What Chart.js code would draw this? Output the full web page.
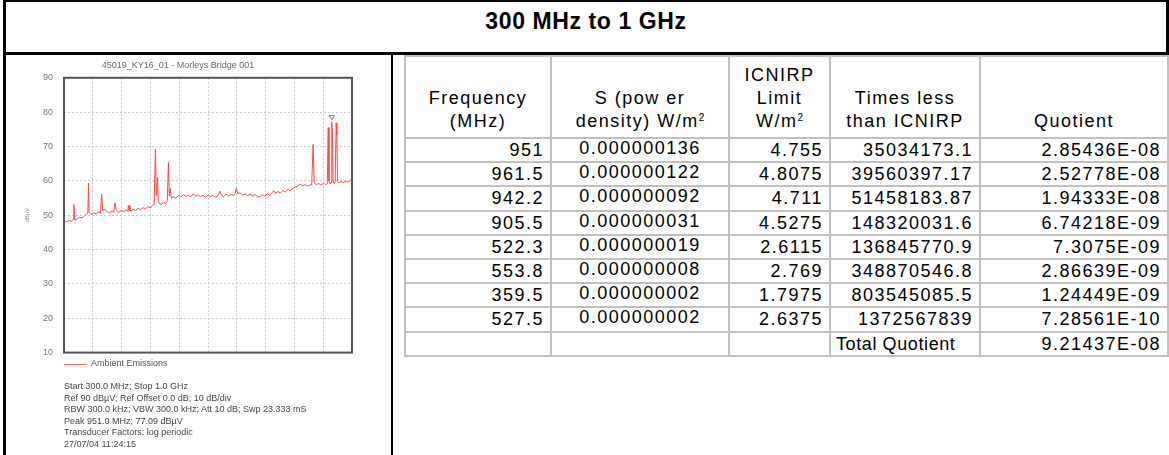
<!DOCTYPE html>
<html>
<head>
<meta charset="utf-8">
<script src="https://cdn.jsdelivr.net/npm/chart.js@4.4.0/dist/chart.umd.min.js"></script>
<style>
  html, body { margin: 0; padding: 0; background: #fff; }
  body { width: 1169px; height: 455px; position: relative; overflow: hidden; font-family: "Liberation Sans", Arial, sans-serif; }
  .title { position: absolute; left: 3px; top: 0; width: 1166px; height: 55px; box-sizing: border-box;
           border: 3px solid #000; border-top-width: 2px; text-align: center; font-weight: bold;
           font-size: 23px; letter-spacing: 0.6px; line-height: 38px; }
  .lborder { position: absolute; left: 3px; top: 55px; width: 3px; height: 400px; background: #000; }
  .divider { position: absolute; left: 391px; top: 55px; width: 2px; height: 400px; background: #000; }
  #spec { position: absolute; left: 4px; top: 56px; }
  .legend { position: absolute; left: 64px; top: 358px; font-size: 9px; color: #555; }
  .legend i { position: absolute; left: 0; top: 6px; width: 23px; height: 1px; background: #ff7070; }
  .legend span { position: absolute; left: 27px; top: 0; white-space: nowrap; }
  .info { position: absolute; left: 64px; top: 381px; font-size: 9px; line-height: 11.5px; color: #444; white-space: nowrap; }
  .tbl { position: absolute; left: 404px; top: 55px; width: 763px; border-collapse: collapse; table-layout: fixed;
         font-size: 18px; letter-spacing: 1.5px; color: #000; }
  .tbl td { border: 2px solid #c0c0c0; padding: 0 6px; height: 22.2px; line-height: 20px; white-space: nowrap; }
  .tbl tr.hd td { height: 76px; vertical-align: bottom; text-align: center; line-height: 23px; padding-bottom: 4px; }
  .tbl sup { font-size: 10px; letter-spacing: 0; vertical-align: 6px; line-height: 0; }
  .tbl td.r { text-align: right; }
  .tbl td.c { text-align: center; }
  .tbl td.c span { position: relative; top: -2px; }
  .tbl td.l { text-align: left; padding-left: 5px; letter-spacing: 0.6px; }
</style>
</head>
<body>
<div class="title">300 MHz to 1 GHz</div>
<div class="lborder"></div>
<div class="divider"></div>

<canvas id="spec" width="370" height="313"></canvas>
<div class="legend"><i></i><span>Ambient Emissions</span></div>
<div class="info">
  Start 300.0 MHz; Stop 1.0 GHz<br>
  Ref 90 dBµV; Ref Offset 0.0 dB; 10 dB/div<br>
  RBW 300.0 kHz; VBW 300.0 kHz; Att 10 dB; Swp 23.333 mS<br>
  Peak 951.0 MHz; 77.09 dBµV<br>
  Transducer Factors: log periodic<br>
  27/07/04 11:24:15
</div>

<table class="tbl" id="tbl">
  <colgroup>
    <col style="width:146px"><col style="width:178px"><col style="width:101px"><col style="width:150px"><col style="width:188px">
  </colgroup>
  <tr class="hd">
    <td>Frequency<br>(MHz)</td>
    <td>S (pow er<br>density) W/m<sup>2</sup></td>
    <td>ICNIRP<br>Limit<br>W/m<sup>2</sup></td>
    <td>Times less<br>than ICNIRP</td>
    <td>Quotient</td>
  </tr>
</table>

<script>
// spectrum trace (MHz, dBuV)
var freqMHz = [300, 306, 312, 318, 322, 324, 326, 332, 338, 344, 350, 355, 358, 359.5, 361, 366, 372, 378, 384, 389,
  391.5, 394, 399, 405, 411, 417, 421, 424, 427, 433, 439, 445, 451, 455, 456.5, 458, 460, 462, 468, 474,
  480, 486, 492, 498, 504, 510, 515, 519, 522.3, 524, 526, 527.5, 529, 532, 537, 542, 547, 551, 553.8, 556,
  558, 561, 566, 572, 578, 584, 590, 596, 602, 608, 614, 620, 626, 632, 638, 644, 650, 656, 662, 668,
  674, 679, 682, 688, 694, 700, 706, 712, 716, 719, 722, 728, 734, 740, 746, 752, 758, 764, 770, 776,
  782, 788, 794, 800, 806, 810, 814, 820, 826, 832, 838, 844, 850, 856, 862, 868, 874, 880, 886, 892,
  898, 902, 905.5, 908, 913, 919, 925, 931, 936, 940, 942.2, 944, 947, 949, 951, 952.5, 954, 957, 959, 961.5,
  963, 965, 968, 973, 979, 985, 991, 996, 1000];
var levelDbuv = [48.4, 48.1, 48.5, 48.2, 48.8, 53.1, 48.6, 48.9, 49.4, 49.2, 49.9, 50.3, 50.6, 59.3, 50.8, 50.2, 50.7, 50.4, 50.9, 50.6,
  56.1, 51.4, 51.7, 51.0, 50.7, 51.2, 50.9, 53.6, 51.5, 50.8, 51.3, 51.0, 51.6, 51.1, 52.9, 51.3, 52.8, 51.2, 51.7, 51.4,
  52.0, 51.6, 52.2, 51.8, 52.5, 52.1, 52.8, 53.1, 69.2, 55.8, 58.9, 61.0, 54.1, 53.4, 53.1, 53.9, 53.3, 54.2, 65.3, 55.6,
  57.8, 54.9, 55.4, 54.9, 55.7, 55.3, 56.0, 55.4, 55.9, 55.3, 56.2, 55.6, 55.9, 55.4, 55.8, 55.2, 55.9, 55.4, 55.8, 55.2,
  55.7, 57.0, 55.9, 55.4, 56.1, 55.6, 56.0, 55.7, 56.3, 57.9, 56.3, 56.5, 55.9, 56.2, 55.7, 56.1, 55.6, 56.0, 55.5, 55.3,
  56.0, 55.5, 56.2, 55.8, 56.6, 57.2, 56.4, 56.9, 56.5, 57.2, 56.8, 57.5, 57.1, 57.8, 58.1, 58.5, 59.0, 58.6, 58.9, 58.5,
  58.8, 58.9, 70.6, 59.6, 58.9, 59.2, 58.8, 59.3, 58.9, 59.2, 75.5, 59.9, 59.1, 59.5, 77.1, 73.6, 59.7, 59.2, 59.8, 76.9,
  73.4, 59.9, 59.4, 59.8, 59.5, 59.9, 59.6, 60.2, 60.5];

// peak marker drawn just above the 951 MHz peak
var peakFreq = [951.0];
var peakMarkerLevel = [78.6];

var chartTitle = '45019_KY16_01 - Morleys Bridge 001';
var yAxisLabel = 'dBµV';

// table values
var tblFreq = ['951', '961.5', '942.2', '905.5', '522.3', '553.8', '359.5', '527.5'];
var tblPower = ['0.000000136', '0.000000122', '0.000000092', '0.000000031', '0.000000019', '0.000000008', '0.000000002', '0.000000002'];
var tblLimit = ['4.755', '4.8075', '4.711', '4.5275', '2.6115', '2.769', '1.7975', '2.6375'];
var tblTimes = ['35034173.1', '39560397.17', '51458183.87', '148320031.6', '136845770.9', '348870546.8', '803545085.5', '1372567839'];
var tblQuot = ['2.85436E-08', '2.52778E-08', '1.94333E-08', '6.74218E-09', '7.3075E-09', '2.86639E-09', '1.24449E-09', '7.28561E-10'];
var totalQuot = '9.21437E-08';

var tbl = document.getElementById('tbl');
for (var i = 0; i < tblFreq.length; i++) {
  var tr = document.createElement('tr');
  tr.innerHTML = '<td class="r">' + tblFreq[i] + '</td><td class="c"><span>' + tblPower[i] + '</span></td><td class="r">' +
    tblLimit[i] + '</td><td class="r">' + tblTimes[i] + '</td><td class="r">' + tblQuot[i] + '</td>';
  tbl.appendChild(tr);
}
var trTot = document.createElement('tr');
trTot.innerHTML = '<td></td><td></td><td></td><td class="l">Total Quotient</td><td class="r">' + totalQuot + '</td>';
tbl.appendChild(trTot);

var tracePts = [];
for (var j = 0; j < freqMHz.length; j++) tracePts.push({ x: freqMHz[j], y: levelDbuv[j] });
var markerPts = [{ x: peakFreq[0], y: peakMarkerLevel[0] }];

// full box round the plot area
var plotBox = {
  id: 'plotBox',
  afterDatasetsDraw: function(chart) {
    var a = chart.chartArea, ctx = chart.ctx;
    ctx.save();
    ctx.strokeStyle = '#555';
    ctx.lineWidth = 2;
    ctx.strokeRect(a.left, a.top, a.right - a.left, a.bottom - a.top);
    ctx.restore();
  }
};

Chart.defaults.font.family = '"Liberation Sans", Arial, sans-serif';

new Chart(document.getElementById('spec'), {
  type: 'line',
  data: {
    datasets: [
      {
        label: 'Ambient Emissions',
        data: tracePts,
        borderColor: '#ff4646',
        borderWidth: 1,
        pointRadius: 0,
        tension: 0,
        fill: false
      },
      {
        label: 'peak',
        data: markerPts,
        showLine: false,
        pointStyle: 'triangle',
        rotation: 180,
        pointRadius: 3,
        borderColor: '#888',
        backgroundColor: '#fff',
        borderWidth: 1
      }
    ]
  },
  options: {
    responsive: false,
    animation: false,
    layout: { padding: { top: 0, right: 22, bottom: 0, left: 0 } },
    plugins: {
      legend: { display: false },
      tooltip: { enabled: false },
      title: {
        display: true,
        text: chartTitle,
        color: '#666',
        font: { size: 9, weight: 'normal' },
        padding: { top: 4, bottom: 7 }
      }
    },
    scales: {
      x: {
        type: 'linear',
        min: 300,
        max: 1000,
        ticks: { display: false, stepSize: 70 },
        grid: { color: '#c8c8c8', drawTicks: false },
        border: { display: false, dash: [2, 2] }
      },
      y: {
        min: 10,
        max: 90,
        ticks: { stepSize: 10, color: '#777', font: { size: 9 }, padding: 11 },
        grid: { color: '#c8c8c8', drawTicks: false },
        border: { display: false, dash: [2, 2] },
        title: { display: true, text: yAxisLabel, color: '#888', font: { size: 6 }, padding: { top: 20, bottom: 0 } },
        afterFit: function(scale) { scale.width = 60; }
      }
    }
  },
  plugins: [plotBox]
});
</script>
</body>
</html>
